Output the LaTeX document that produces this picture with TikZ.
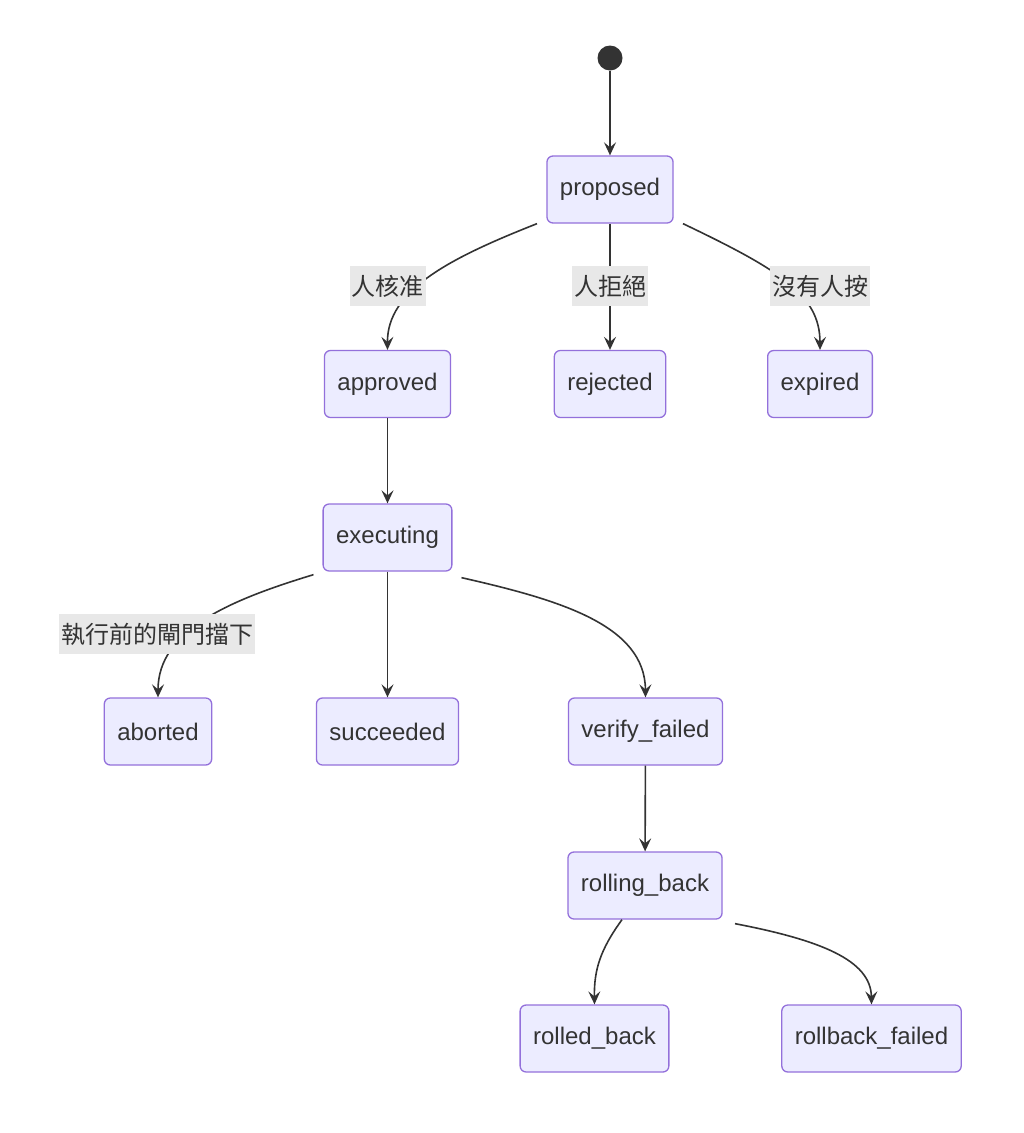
\documentclass[tikz,border=0pt]{standalone}
\usepackage{fontspec}
\setmainfont{Liberation Sans}
\newfontfamily\cjk{Noto Sans CJK TC}
\usetikzlibrary{arrows.meta}
\definecolor{stfill}{HTML}{ECECFF}
\definecolor{stline}{HTML}{9370DB}
\definecolor{ink}{HTML}{333333}
\definecolor{lblbg}{HTML}{E8E8E8}

\begin{document}
\begin{tikzpicture}[x=1pt, y=-1pt, >={Stealth[length=13pt,width=12pt,inset=5pt]},
  state/.style={draw=stline, fill=stfill, line width=1.3pt, rounded corners=6pt,
    minimum height=67pt, inner xsep=13pt, text=ink, font=\fontsize{24}{28}\selectfont},
  edge/.style={->, draw=ink, line width=1.6pt},
  lbl/.style={fill=lblbg, text=ink, inner sep=2pt, minimum height=40pt, font=\cjk\fontsize{24}{28}\selectfont}]
\useasboundingbox (0,0) rectangle (1024,1133);

% states
\node[circle, fill=ink, minimum size=25pt, inner sep=0] (start) at (610,58) {};
\node[state] (proposed) at (610,189.5) {proposed};
\node[state] (approved) at (387.5,384) {approved};
\node[state] (rejected) at (610,384) {rejected};
\node[state] (expired) at (820,384) {expired};
\node[state] (executing) at (387.5,537.5) {executing};
\node[state] (aborted) at (158,731.5) {aborted};
\node[state] (succeeded) at (387.5,731.5) {succeeded};
\node[state] (verify) at (645.5,731.5) {verify\_failed};
\node[state] (rolling) at (645,885.5) {rolling\_back};
\node[state] (rolled) at (594.5,1038.5) {rolled\_back};
\node[state] (rbfailed) at (871.5,1038.5) {rollback\_failed};

% transitions
\draw[edge] (start) -- (proposed);
\draw[edge] ([xshift=-73pt]proposed.south) .. controls (450,258) and (387,290) .. (approved.north);
\draw[edge] (proposed) -- (rejected);
\draw[edge] ([xshift=73pt]proposed.south) .. controls (780,270) and (820,295) .. (expired.north);
\draw[edge] (approved) -- (executing);
\draw[edge] ([xshift=-74pt,yshift=-3pt]executing.south) .. controls (230,600) and (158,630) .. (aborted.north);
\draw[edge] (executing) -- (succeeded);
\draw[edge] ([xshift=74pt,yshift=-6pt]executing.south) .. controls (560,600) and (645,625) .. (verify.north);
\draw[edge] (verify) -- (rolling);
\draw[edge] ([xshift=-23pt]rolling.south) .. controls (600,950) and (594,970) .. (rolled.north);
\draw[edge] ([xshift=90pt,yshift=-4pt]rolling.south) .. controls (820,940) and (871,960) .. (rbfailed.north);

% labels
\node[lbl] (l1) at (387.5,286) {人核准};
\node[lbl] (l2) at (610,286) {人拒絕};
\node[lbl] (l3) at (820,286) {沒有人按};
\node[lbl] (l4) at (157,634) {執行前的閘門擋下};
\end{tikzpicture}
\end{document}
